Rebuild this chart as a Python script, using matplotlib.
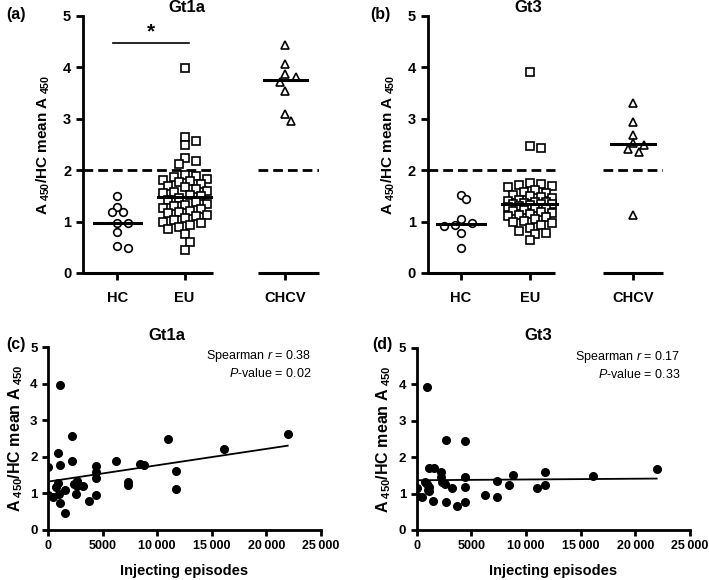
import matplotlib
matplotlib.use('Agg')
import matplotlib.pyplot as plt
import numpy as np

plt.rcParams['font.family'] = ['Liberation Sans', 'DejaVu Sans']
plt.rcParams['font.weight'] = 'bold'
plt.rcParams['mathtext.fontset'] = 'custom'
plt.rcParams['mathtext.rm'] = 'Liberation Sans:bold'
plt.rcParams['mathtext.bf'] = 'Liberation Sans:bold'
plt.rcParams['mathtext.it'] = 'Liberation Sans:style=italic:weight=normal'

groups = ['HC', 'EU', 'CHCV']
group_pos = [1, 2, 3.5]
cutoff = 2.0

# (a) Gt1a, ratio to HC mean
gt1a_hc = [1.49, 1.28, 1.19, 1.19, 0.98, 0.98, 0.80, 0.48, 0.53]
gt1a_eu = [3.98, 2.65, 2.57, 2.49, 2.23, 2.18, 2.11, 1.90, 1.89, 1.86, 1.82, 1.80,
           1.78, 1.76, 1.73, 1.70, 1.67, 1.63, 1.60, 1.58, 1.55, 1.52, 1.50,
           1.46, 1.42, 1.38, 1.35, 1.32, 1.30, 1.27, 1.24, 1.21, 1.19, 1.16, 1.13,
           1.10, 1.07, 1.03, 1.00, 0.97, 0.94, 0.90, 0.85, 0.75, 0.60, 0.45]
gt1a_chcv = [4.43, 4.07, 3.87, 3.80, 3.72, 3.54, 3.09, 2.96]

# (b) Gt3
gt3_hc = [1.52, 1.43, 1.04, 0.98, 0.93, 0.92, 0.77, 0.48]
gt3_eu = [3.91, 2.47, 2.43, 1.74, 1.72, 1.71, 1.70, 1.68, 1.62, 1.58, 1.55, 1.52,
          1.50, 1.47, 1.45, 1.42, 1.40, 1.38, 1.37, 1.36, 1.35, 1.35, 1.34,
          1.33, 1.31, 1.29, 1.27, 1.25, 1.23, 1.21, 1.19, 1.17, 1.15, 1.13, 1.10,
          1.08, 1.05, 1.02, 1.00, 0.97, 0.93, 0.88, 0.82, 0.78, 0.76, 0.64]
gt3_chcv = [3.30, 2.93, 2.69, 2.53, 2.49, 2.41, 2.36, 1.13]

# (c)/(d) EU subjects: injecting episodes vs ratio
episodes = [0, 0, 450, 760, 920, 920, 1000, 1130, 1130, 1130, 1520, 1585,
            2220, 2220, 2350, 2590, 2650, 2650, 3200, 3720, 4420, 4420, 4420, 4420,
            6250, 7320, 7320, 8450, 8780, 10980, 11740, 11740, 16100, 21950]
gt1a_corr = [1.72, 0.95, 0.91, 1.18, 2.10, 1.28, 0.98, 3.97, 1.78, 0.73, 1.10, 0.47,
             2.57, 1.88, 1.27, 0.98, 1.35, 1.20, 1.20, 0.80, 1.75, 1.60, 1.43, 0.95,
             1.88, 1.30, 1.22, 1.80, 1.78, 2.48, 1.62, 1.12, 2.22, 2.63]
gt3_corr = [1.14, 0.94, 0.91, 1.32, 3.92, 1.26, 1.11, 1.71, 1.19, 1.07, 0.79, 1.71,
            1.60, 1.46, 1.32, 1.26, 2.48, 0.78, 1.16, 0.66, 2.44, 1.44, 1.17, 0.77,
            0.96, 1.35, 0.91, 1.23, 1.52, 1.16, 1.60, 1.23, 1.49, 1.67]
spearman = [('0.38', '0.02'), ('0.17', '0.33')]

ylab = r'A$_{\ \mathbf{450}}$/HC mean A$_{\ \mathbf{450}}$'


def swarm(ax, values, center, size_px, step_px=5.5, kmax=4):
    # Prism-like column scatter: shift points sideways until they stop overlapping
    o = ax.transData.transform([[0, 0]])[0]
    sx = ax.transData.transform([[1, 0]])[0][0] - o[0]
    sy = ax.transData.transform([[0, 1]])[0][1] - o[1]
    values = np.asarray(values)
    xs = np.zeros(len(values))
    placed = []
    for i in np.argsort(-values):
        yp = values[i] * sy
        best, best_d = 0, -1
        for k in [0] + [s * j for j in range(1, kmax + 1) for s in (1, -1)]:
            xp = k * step_px
            d = min([np.hypot(xp - a, yp - b) for a, b in placed] or [1e9])
            if d >= size_px:
                best = xp
                break
            if d > best_d:
                best, best_d = xp, d
        placed.append((best, yp))
        xs[i] = center + best / sx
    return xs


def column_panel(ax, data, xlim, seg1_end, seg2_start):
    ax.set_xlim(*xlim)
    ax.set_ylim(0, 5)
    for s in ['top', 'right', 'bottom']:
        ax.spines[s].set_visible(False)
    ax.spines['left'].set_linewidth(2)
    ax.hlines(0, xlim[0], seg1_end, color='k', lw=2.2, clip_on=False)
    ax.hlines(0, seg2_start, xlim[1], color='k', lw=2.2, clip_on=False)
    for x0, x1 in [(xlim[0], seg1_end), (seg2_start, xlim[1])]:
        ax.plot([x0, x1], [cutoff, cutoff], color='k', lw=2, ls=(0, (3.5, 1.8)))
    markers = ['o', 's', '^']
    sizes = [5.5, 6.2, 6.2]
    widths = [0.35, 0.4, 0.32]
    for vals, pos, m, ms, w in zip(data, group_pos, markers, sizes, widths):
        xs = swarm(ax, vals, pos, ms * 1.3)
        ax.plot(xs, vals, ls='none', marker=m, ms=ms, mfc='white', mec='k', mew=1.2)
        ax.plot([pos - w, pos + w], [np.median(vals)] * 2, color='k', lw=2.2)
    ax.set_xticks(group_pos)
    ax.set_xticklabels(groups, fontsize=10.5, fontweight='bold')
    ax.set_yticks(range(6))
    ax.tick_params(axis='y', labelsize=10.5, width=2, length=5)
    ax.tick_params(axis='x', width=2, length=5, pad=8)
    ax.set_ylabel(ylab, fontsize=11, fontweight='bold', labelpad=8)


def corr_panel(ax, x, y, stats):
    ax.set_xlim(0, 25000)
    ax.set_ylim(0, 5)
    for s in ['top', 'right']:
        ax.spines[s].set_visible(False)
    ax.spines['left'].set_linewidth(2)
    ax.spines['bottom'].set_linewidth(2)
    ax.plot(x, y, ls='none', marker='o', ms=5.5, color='k')
    b, a = np.polyfit(x, y, 1)
    xx = np.array([min(x), max(x)])
    ax.plot(xx, a + b * xx, color='k', lw=1.3)
    ax.set_xticks([0, 5000, 10000, 15000, 20000, 25000])
    ax.set_xticklabels(['0', '5000', '10\u2009000', '15\u2009000', '20\u2009000', '25\u2009000'])
    ax.set_yticks(range(6))
    ax.tick_params(axis='x', labelsize=9, width=2, length=4)
    ax.tick_params(axis='y', labelsize=9.5, width=2, length=4)
    ax.set_ylabel(ylab, fontsize=11.5, fontweight='bold', labelpad=4)
    ax.set_xlabel('Injecting episodes', fontsize=10.5, fontweight='bold', labelpad=8)
    r, p = stats
    ax.text(0.965, 0.95, r'Spearman $\mathit{r}$ = ' + r, transform=ax.transAxes,
            ha='right', va='center', fontsize=9, fontweight='normal')
    ax.text(0.965, 0.855, r'$\mathit{P}$-value = ' + p, transform=ax.transAxes,
            ha='right', va='center', fontsize=9, fontweight='normal')


fig = plt.figure(figsize=(7.09, 5.80), dpi=100)
W, H = 709, 580


def axes_px(l, r, b, t):
    return fig.add_axes([l / W, 1 - b / H, (r - l) / W, (b - t) / H])


ax_a = axes_px(83, 319, 273, 15.7)
ax_b = axes_px(427.7, 663, 273, 15.7)
ax_c = axes_px(48, 321, 530, 347.3)
ax_d = axes_px(416.7, 690, 530, 347.7)

column_panel(ax_a, [gt1a_hc, gt1a_eu, gt1a_chcv], (0.49, 4.0), 2.43, 3.1)
column_panel(ax_b, [gt3_hc, gt3_eu, gt3_chcv], (0.52, 3.93), 2.36, 3.06)

# significance bar HC vs EU
ax_a.plot([0.93, 2.06], [4.47, 4.47], color='k', lw=1.2)
ax_a.text(1.5, 4.5, '*', ha='center', va='bottom', fontsize=15, fontweight='bold')

corr_panel(ax_c, episodes, gt1a_corr, spearman[0])
corr_panel(ax_d, episodes, gt3_corr, spearman[1])

for txt, x, y in [('(a)', 16, 15), ('(b)', 380, 15), ('(c)', 16, 345), ('(d)', 382, 345)]:
    fig.text(x / W, 1 - y / H, txt, ha='center', va='center', fontsize=11.5, fontweight='bold')
for txt, x, y in [('Gt1a', 187, 8), ('Gt3', 528, 8), ('Gt1a', 167, 336), ('Gt3', 538, 336)]:
    fig.text(x / W, 1 - y / H, txt, ha='center', va='center', fontsize=12, fontweight='bold')

fig.savefig('out.png', dpi=100)
